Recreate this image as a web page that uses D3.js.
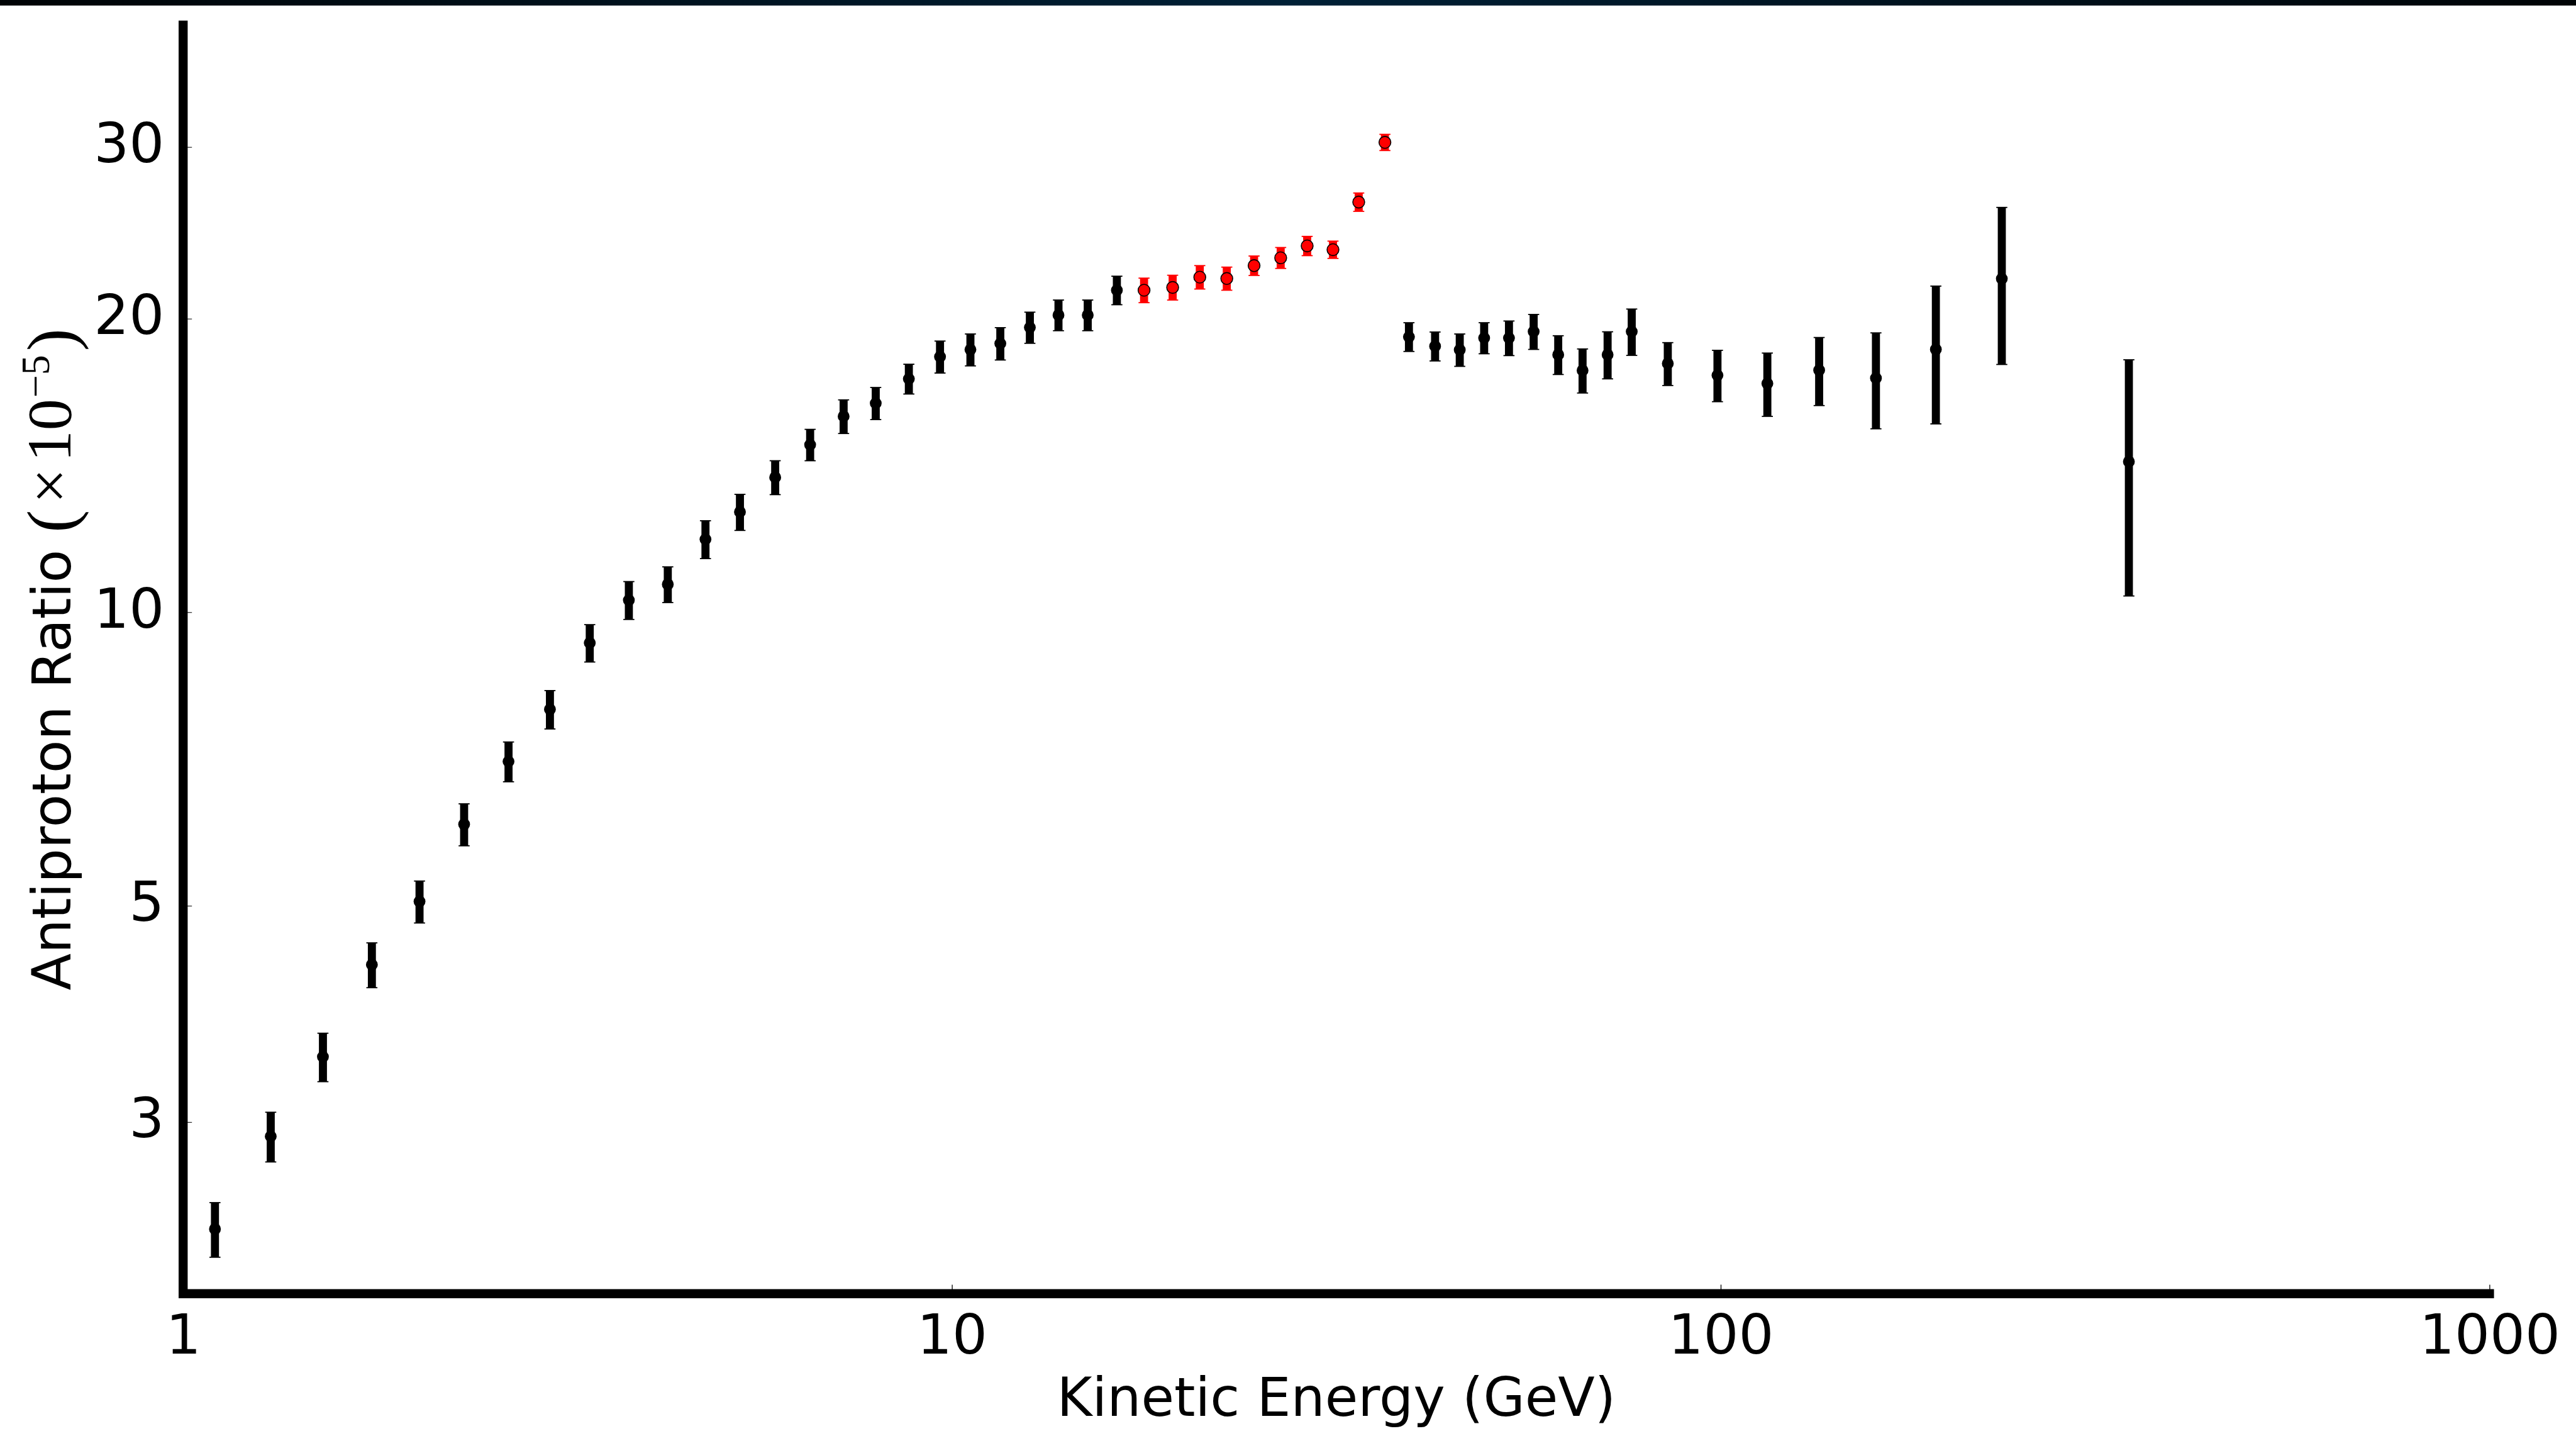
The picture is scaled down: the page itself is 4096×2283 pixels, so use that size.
<!DOCTYPE html>
<html>
<head>
<meta charset="utf-8">
<script src="https://cdn.jsdelivr.net/npm/d3@7"></script>
<style>
  html, body { margin: 0; padding: 0; background: #fff; }
  svg { display: block; }
</style>
</head>
<body>
<svg id="chart" width="4096" height="2283"></svg>
<script>
// ---------------- data ----------------
const blackEnergy = [1.10, 1.30, 1.52, 1.76, 2.03, 2.32, 2.65, 3.00, 3.38, 3.80,
  4.27, 4.78, 5.30, 5.89, 6.54, 7.23, 7.96, 8.79, 9.65, 10.57,
  11.56, 12.63, 13.76, 15.02, 16.39,
  39.31, 42.51, 45.77, 49.24, 53.04, 57.11, 61.47, 66.12, 71.27, 76.61,
  85.35, 99.04, 115.0, 134.3, 159.2, 190.5, 232.1, 339.6];
const blackRatio = [2.33, 2.90, 3.50, 4.35, 5.05, 6.06, 7.03, 7.95, 9.30, 10.29,
  10.68, 11.88, 12.67, 13.75, 14.85, 15.88, 16.38, 17.35, 18.28, 18.59,
  18.86, 19.59, 20.17, 20.17, 21.39,
  19.16, 18.74, 18.58, 19.11, 19.11, 19.40, 18.37, 17.70, 18.37, 19.40,
  17.99, 17.50, 17.16, 17.71, 17.38, 18.60, 21.98, 14.27];
const blackError = [0.15, 0.17, 0.20, 0.23, 0.25, 0.30, 0.33, 0.36, 0.41, 0.46,
  0.45, 0.53, 0.54, 0.55, 0.55, 0.63, 0.62, 0.61, 0.69, 0.70,
  0.72, 0.72, 0.73, 0.73, 0.72,
  0.65, 0.64, 0.71, 0.70, 0.78, 0.80, 0.84, 0.92, 1.02, 1.06,
  0.91, 1.06, 1.28, 1.42, 1.96, 3.00, 4.03, 3.88];

const redEnergy = [17.78, 19.37, 21.01, 22.78, 24.72, 26.77, 28.98, 31.31, 33.82, 36.58];
const redRatio  = [21.39, 21.53, 22.06, 21.99, 22.67, 23.09, 23.75, 23.54, 26.34, 30.33];
const redError  = [0.62, 0.63, 0.61, 0.60, 0.52, 0.57, 0.54, 0.48, 0.57, 0.58];

const xTicks = [1, 10, 100, 1000];
const yTicks = [3, 5, 10, 20, 30];
const xDomain = [1, 1000];
const yDomain = [2, 40];

// ---------------- layout ----------------
const svg = d3.select("#chart");
const W = 4096, H = 2283;
const FONT = "'DejaVu Sans', sans-serif";

const x = d3.scaleLog().domain(xDomain).range([291.2, 3958.4]);
const y = d3.scaleLog().domain(yDomain).range([2056.8, 40]);

// top dark band
const defs = svg.append("defs");
const grad = defs.append("linearGradient").attr("id", "band").attr("x1", "0%").attr("x2", "100%");
grad.append("stop").attr("offset", "0%").attr("stop-color", "#000305");
grad.append("stop").attr("offset", "50%").attr("stop-color", "#002036");
grad.append("stop").attr("offset", "100%").attr("stop-color", "#000305");
svg.append("rect").attr("x", 0).attr("y", 0).attr("width", W).attr("height", 8.8).attr("fill", "url(#band)");

// ---------------- axes ----------------
const xAxis = d3.axisBottom(x).tickValues(xTicks).tickFormat(d3.format("d"))
  .tickSizeInner(-14.4).tickSizeOuter(0).tickPadding(0);
const gx = svg.append("g").attr("transform", `translate(0,${y(yDomain[0])})`).call(xAxis);
gx.select(".domain").remove();
gx.selectAll(".tick line").attr("stroke", "#000").attr("stroke-width", 1.3);
gx.selectAll(".tick text").attr("y", 95).attr("dy", null)
  .attr("font-family", FONT).attr("font-size", 88).attr("fill", "#000");

const yAxis = d3.axisLeft(y).tickValues(yTicks).tickFormat(d3.format("d"))
  .tickSizeInner(-14).tickSizeOuter(0).tickPadding(30);
const gy = svg.append("g").attr("transform", `translate(${x(xDomain[0])},0)`).call(yAxis);
gy.select(".domain").remove();
gy.selectAll(".tick line").attr("stroke", "#000").attr("stroke-width", 1);
gy.selectAll(".tick text").attr("dy", 24)
  .attr("font-family", FONT).attr("font-size", 88).attr("fill", "#000");

// ---------------- error bars + markers ----------------
function drawSeries(E, V, Err, color, edge) {
  const data = E.map((e, i) => ({ e, v: V[i], err: Err[i] }));
  const g = svg.append("g");
  g.selectAll("line.bar").data(data).join("line").attr("class", "bar")
    .attr("x1", d => x(d.e)).attr("x2", d => x(d.e))
    .attr("y1", d => y(d.v - d.err)).attr("y2", d => y(d.v + d.err))
    .attr("stroke", color).attr("stroke-width", 12.8);
  ["lo", "hi"].forEach(side => {
    g.selectAll("line.cap" + side).data(data).join("line").attr("class", "cap" + side)
      .attr("x1", d => x(d.e) - 8.8).attr("x2", d => x(d.e) + 8.8)
      .attr("y1", d => y(side === "lo" ? d.v - d.err : d.v + d.err))
      .attr("y2", d => y(side === "lo" ? d.v - d.err : d.v + d.err))
      .attr("stroke", color).attr("stroke-width", 1.8);
  });
  g.selectAll("circle").data(data).join("circle")
    .attr("cx", d => x(d.e)).attr("cy", d => y(d.v)).attr("r", 9.4)
    .attr("fill", color)
    .attr("stroke", edge).attr("stroke-width", edge === "none" ? 0 : 1.6);
}
drawSeries(blackEnergy, blackRatio, blackError, "#000", "none");
drawSeries(redEnergy, redRatio, redError, "#ff0000", "#000");

// ---------------- spines ----------------
const sw = 14.4;
svg.append("line")
  .attr("x1", x(xDomain[0])).attr("x2", x(xDomain[0]))
  .attr("y1", y(yDomain[1]) - sw / 2).attr("y2", y(yDomain[0]) + sw / 2)
  .attr("stroke", "#000").attr("stroke-width", sw);
svg.append("line")
  .attr("x1", x(xDomain[0]) - sw / 2).attr("x2", x(xDomain[1]) + sw / 2)
  .attr("y1", y(yDomain[0])).attr("y2", y(yDomain[0]))
  .attr("stroke", "#000").attr("stroke-width", sw);

// ---------------- axis labels ----------------
svg.append("text")
  .attr("x", (x(xDomain[0]) + x(xDomain[1])) / 2).attr("y", 2251)
  .attr("text-anchor", "middle").attr("font-family", FONT).attr("font-size", 85.5)
  .attr("fill", "#000").text("Kinetic Energy (GeV)");

const yl = svg.append("text")
  .attr("transform", `translate(112,${(y(yDomain[0]) + y(yDomain[1])) / 2}) rotate(-90)`)
  .attr("text-anchor", "middle").attr("font-family", FONT).attr("font-size", 86).attr("fill", "#000");
const MATH = "'Liberation Serif', 'DejaVu Serif', serif";
yl.append("tspan").text("Antiproton Ratio ");
yl.append("tspan").attr("font-family", MATH).attr("font-size", 108).attr("dy", 6).text("(");
yl.append("tspan").attr("font-family", MATH).attr("font-size", 100).attr("dy", -6).attr("dx", 10).text("\u00d7");
yl.append("tspan").attr("font-family", MATH).attr("font-size", 100).attr("dx", 10).text("10");
yl.append("tspan").attr("font-family", MATH).attr("font-size", 64).attr("dy", -34).attr("dx", 2).text("\u22125");
yl.append("tspan").attr("font-family", MATH).attr("font-size", 108).attr("dy", 40).attr("dx", 6).text(")");
</script>
</body>
</html>
